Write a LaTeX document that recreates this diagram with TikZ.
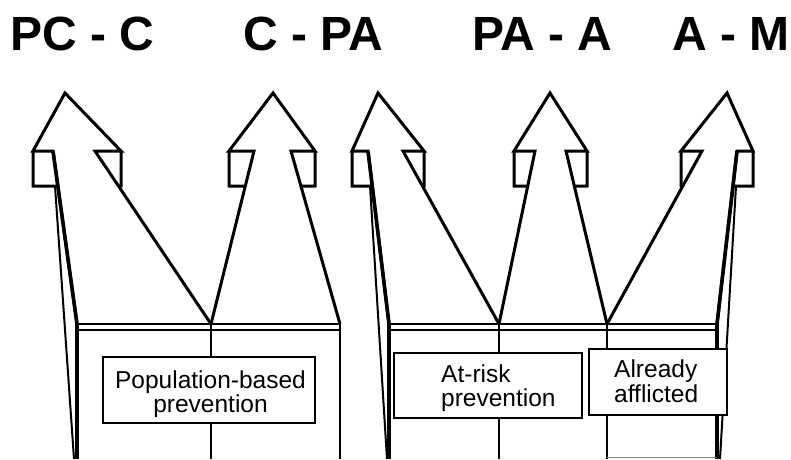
\documentclass[tikz,border=0pt]{standalone}
\usepackage{fontspec}
\setmainfont{Liberation Sans}
\usetikzlibrary{calc}
\tikzset{
  arrowline/.style={line width=3pt, line join=miter, line cap=butt},
  shaftthick/.style={line width=4.2pt},
  thinside/.style={line width=2pt},
  platline/.style={line width=2.8pt},
  divline/.style={line width=2.4pt},
  labelbox/.style={draw, fill=white, line width=1.2pt, inner sep=0pt},
  labeltext/.style={font=\fontsize{24.5}{24.5}\selectfont, inner sep=0pt},
  title/.style={font=\fontsize{48}{50}\selectfont\bfseries, inner sep=0pt, anchor=base west}
}
\begin{document}
\begin{tikzpicture}[x=1pt,y=-1pt]
\useasboundingbox (0,0) rectangle (791,459);
% titles
\node[title] (t1) at (10,50) {PC - C};
\node[title] (t2) at (243,50) {C - PA};
\node[title] (t3) at (472,50) {PA - A};
\node[title] (t4) at (672,50) {A - M};
% platform coordinates
\coordinate (p1l) at (77,324);
\coordinate (p1m) at (211,324);
\coordinate (p1r) at (340,324);
\coordinate (p2l) at (389,324);
\coordinate (p2a) at (499,324);
\coordinate (p2b) at (607,324);
\coordinate (p2r) at (717,324);
% platform double lines
\draw[platline] (p1l) -- (p1r);
\draw[platline] ($(p1l)+(0,6)$) -- ($(p1r)+(0,6)$);
\draw[platline] (p2l) -- (p2r);
\draw[platline] ($(p2l)+(0,6)$) -- ($(p2r)+(0,6)$);
% verticals
\draw[shaftthick] (p1l) -- (p1l |- 0,459);
\draw[divline] (p1m) -- (p1m |- 0,459);
\draw[platline] (p1r) -- (p1r |- 0,459);
\draw[shaftthick] (p2l) -- (p2l |- 0,459);
\draw[divline] (p2a) -- (p2a |- 0,459);
\draw[platline] (p2b) -- (p2b |- 0,459);
\draw[shaftthick] (p2r) -- (p2r |- 0,459);
\coordinate (bl1) at (607,457.5);
\coordinate (bl2) at (717,457.5);
\draw[line width=0.8pt, gray] (bl1) -- (bl2);
% thin side lines
\coordinate (s1a) at (55,186);  \coordinate (s1b) at (74,459);
\coordinate (s2a) at (370,186); \coordinate (s2b) at (387,459);
\coordinate (s3a) at (736,186); \coordinate (s3b) at (720,459);
\draw[thinside] (s1a) -- (s1b);
\draw[thinside] (s2a) -- (s2b);
\draw[thinside] (s3a) -- (s3b);
% arrows
\foreach \n/\lb/\li/\lo/\t/\ro/\ri/\rb in
  {a/77/53/33/65/121/95/211, b/211/254/229/273/315/291/340,
   c/389/368/352/378/424/403/499, d/499/535/514/550/587/566/607,
   e/607/702/681/727/753/737/717}{
  \coordinate (\n-lb) at (\lb,324);
  \coordinate (\n-li) at (\li,151);
  \coordinate (\n-lo) at (\lo,151);
  \coordinate (\n-t) at (\t,93);
  \coordinate (\n-ro) at (\ro,151);
  \coordinate (\n-ri) at (\ri,151);
  \coordinate (\n-rb) at (\rb,324);
  \draw[arrowline] (\n-lb) -- (\n-li) -- (\n-lo) -- (\n-t) -- (\n-ro) -- (\n-ri) -- (\n-rb);
  \draw[arrowline] (\n-lo) -- (\n-lo |- 0,186) -- ($(\n-li)!0.2035!(\n-lb)$);
  \draw[arrowline] (\n-ro) -- (\n-ro |- 0,186) -- ($(\n-ri)!0.2035!(\n-rb)$);
}
% thicker outer shafts
\draw[line width=3.6pt] (a-li) -- (a-lb);
\draw[line width=3.6pt] (c-li) -- (c-lb);
\draw[line width=3.6pt] (e-ri) -- (e-rb);
% label boxes
\node[labelbox, minimum width=212pt, minimum height=66pt] (popbox) at (209,390) {};
\node[labeltext, align=center] (poptext) at (210.5,394) {Population-based\\prevention};
\node[labelbox, minimum width=188pt, minimum height=65pt] (riskbox) at (488,385.5) {};
\node[labeltext, align=left, anchor=west] (risktext) at (441,388) {At-risk\\prevention};
\node[labelbox, minimum width=138pt, minimum height=66pt] (afbox) at (658,382) {};
\node[labeltext, align=left, anchor=west] (aftext) at (614,381) {Already\\afflicted};
\end{tikzpicture}
\end{document}
